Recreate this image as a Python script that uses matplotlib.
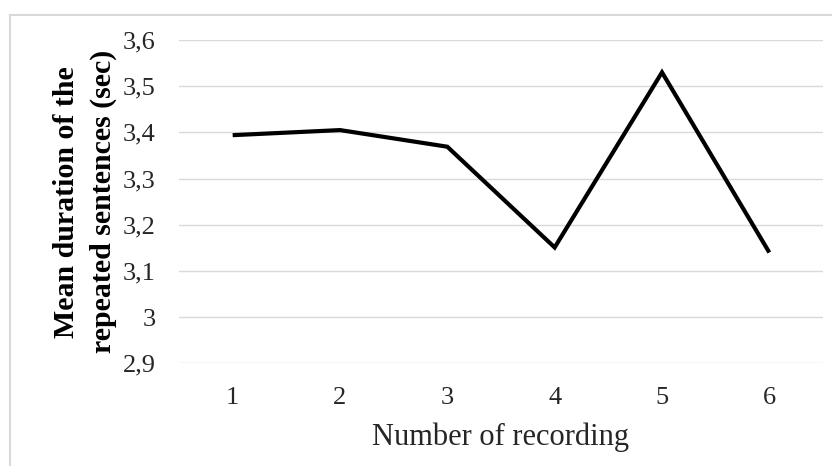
import matplotlib
matplotlib.use("Agg")
import matplotlib.pyplot as plt
from matplotlib.lines import Line2D

categories = ["1", "2", "3", "4", "5", "6"]
values = [3.394, 3.405, 3.369, 3.151, 3.530, 3.140]
yticks = [2.9, 3.0, 3.1, 3.2, 3.3, 3.4, 3.5, 3.6]
ytick_labels = ["2,9", "3", "3,1", "3,2", "3,3", "3,4", "3,5", "3,6"]

W, H = 832, 466
fig = plt.figure(figsize=(W / 100, H / 100), dpi=100)
fig.patch.set_facecolor("white")

font = "Liberation Serif"
ax = fig.add_axes([179 / W, 1 - 363.4 / H, (823 - 179) / W, (363.4 - 40) / H])
x = list(range(len(categories)))
ax.plot(x, values, color="black", lw=3.0, solid_joinstyle="miter", solid_capstyle="butt", zorder=3)
ax.set_xlim(-0.5, len(categories) - 0.5)
ax.set_ylim(2.9, 3.6)
ax.set_yticks(yticks)
ax.set_yticklabels(ytick_labels, fontfamily=font, fontsize=19, color="#262626")
ax.set_xticks(x)
ax.set_xticklabels(categories, fontfamily=font, fontsize=19, color="#262626")
ax.tick_params(length=0)
ax.tick_params(axis="y", pad=17)
ax.tick_params(axis="x", pad=17)
ax.grid(axis="y", color="#d9d9d9", lw=1.0)
ax.set_axisbelow(True)
for s in ax.spines.values():
    s.set_visible(False)

ax.set_xlabel("Number of recording", fontfamily=font, fontsize=22, color="#262626", labelpad=10)
ax.set_ylabel("Mean duration of the\nrepeated sentences (sec)", fontfamily=font, fontsize=21.5,
              fontweight="bold", color="black", labelpad=4, linespacing=1.45)

# outer chart border
fig.add_artist(Line2D([10 / W, 10 / W], [0, 1 - 15 / H], transform=fig.transFigure, color="#d9d9d9", lw=1.5))
fig.add_artist(Line2D([10 / W, 1], [1 - 15 / H, 1 - 15 / H], transform=fig.transFigure, color="#d9d9d9", lw=1.5))

fig.savefig("out.png", dpi=100)
